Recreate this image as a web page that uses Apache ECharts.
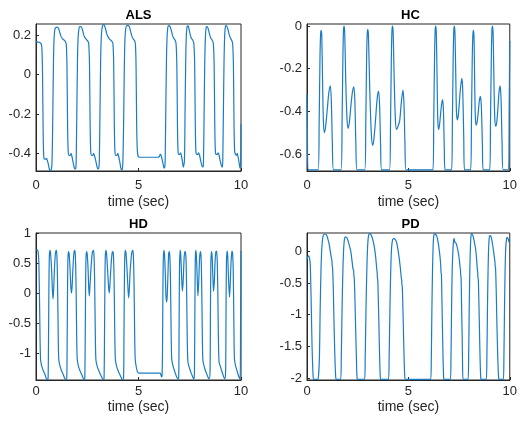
<!DOCTYPE html>
<html><head><meta charset="utf-8">
<script src="https://cdn.jsdelivr.net/npm/echarts@6/dist/echarts.min.js"></script>
<style>html,body{margin:0;padding:0;background:#fff}#c{width:520px;height:421px}</style>
</head><body><div id="c"></div>
<script>
// ---- data: [time (sec), value] ----
const alsData = [[0,0.168],[0.1,0.166],[0.2,0.163],[0.26,0.155],[0.29,0.13],[0.32,0.0],[0.35,-0.3],[0.38,-0.42],[0.42,-0.43],[0.47,-0.43],[0.51,-0.425],[0.55,-0.435],[0.6,-0.455],[0.65,-0.48],[0.7,-0.49],[0.74,-0.485],[0.78,-0.45],
[0.82,-0.2],[0.85,0.05],[0.88,0.18],[0.92,0.23],[0.97,0.24],[1.05,0.242],[1.1,0.235],[1.16,0.215],[1.22,0.195],[1.29,0.183],[1.36,0.177],[1.44,0.168],[1.48,0.15],
[1.51,0.05],[1.54,-0.25],[1.57,-0.39],[1.61,-0.41],[1.67,-0.41],[1.71,-0.4],[1.75,-0.415],[1.8,-0.44],[1.86,-0.47],[1.9,-0.48],[1.94,-0.475],[1.96,-0.44],
[1.99,-0.2],[2.02,0.05],[2.05,0.18],[2.09,0.23],[2.14,0.245],[2.2,0.245],[2.26,0.23],[2.32,0.205],[2.38,0.19],[2.45,0.18],[2.52,0.172],[2.57,0.16],
[2.61,0.05],[2.64,-0.25],[2.67,-0.39],[2.71,-0.41],[2.77,-0.41],[2.81,-0.4],[2.86,-0.415],[2.92,-0.44],[2.98,-0.47],[3.03,-0.48],[3.07,-0.47],[3.09,-0.43],
[3.12,-0.2],[3.15,0.05],[3.18,0.18],[3.22,0.235],[3.28,0.255],[3.34,0.25],[3.4,0.23],[3.46,0.205],[3.53,0.19],[3.6,0.18],[3.68,0.172],[3.75,0.16],
[3.79,0.05],[3.82,-0.25],[3.85,-0.39],[3.89,-0.41],[3.95,-0.41],[3.99,-0.4],[4.03,-0.415],[4.08,-0.44],[4.13,-0.47],[4.17,-0.485],[4.21,-0.48],[4.24,-0.44],
[4.28,-0.2],[4.31,0.05],[4.34,0.18],[4.38,0.235],[4.44,0.25],[4.52,0.25],[4.58,0.235],[4.64,0.21],[4.7,0.19],[4.76,0.18],[4.82,0.17],[4.85,0.155],
[4.88,0.05],[4.91,-0.25],[4.94,-0.38],[4.98,-0.415],[5.05,-0.42],[5.5,-0.42],[5.95,-0.42],[6.02,-0.415],[6.06,-0.405],[6.1,-0.41],[6.15,-0.43],[6.2,-0.455],[6.25,-0.475],[6.28,-0.47],[6.3,-0.44],
[6.33,-0.2],[6.36,0.05],[6.39,0.18],[6.43,0.24],[6.48,0.25],[6.54,0.245],[6.6,0.225],[6.66,0.2],[6.72,0.185],[6.78,0.177],[6.83,0.16],
[6.87,0.05],[6.9,-0.25],[6.93,-0.39],[6.97,-0.405],[7.02,-0.405],[7.05,-0.398],[7.09,-0.41],[7.14,-0.44],[7.19,-0.47],[7.22,-0.47],[7.24,-0.44],
[7.27,-0.2],[7.3,0.05],[7.33,0.19],[7.37,0.245],[7.42,0.248],[7.47,0.23],[7.52,0.205],[7.58,0.185],[7.64,0.177],[7.7,0.16],
[7.74,0.05],[7.77,-0.25],[7.8,-0.39],[7.84,-0.405],[7.89,-0.405],[7.93,-0.398],[7.98,-0.41],[8.04,-0.44],[8.1,-0.465],[8.15,-0.47],[8.17,-0.44],
[8.2,-0.2],[8.23,0.05],[8.26,0.18],[8.3,0.24],[8.35,0.245],[8.41,0.23],[8.47,0.205],[8.53,0.185],[8.59,0.177],[8.65,0.16],
[8.69,0.05],[8.72,-0.25],[8.75,-0.39],[8.79,-0.405],[8.84,-0.405],[8.88,-0.398],[8.93,-0.41],[8.99,-0.44],[9.05,-0.465],[9.09,-0.47],[9.11,-0.44],
[9.14,-0.2],[9.17,0.05],[9.2,0.19],[9.24,0.245],[9.29,0.25],[9.35,0.235],[9.41,0.21],[9.47,0.19],[9.53,0.178],[9.59,0.16],
[9.63,0.05],[9.66,-0.25],[9.69,-0.39],[9.73,-0.405],[9.78,-0.41],[9.82,-0.4],[9.86,-0.42],[9.91,-0.45],[9.95,-0.475],[9.98,-0.46],[10,-0.25]];

const hcData = [[0,-0.32],[0.02,-0.5],[0.05,-0.675],[0.3,-0.675],
[0.55,-0.675],[0.6,-0.45],[0.64,-0.15],[0.67,-0.04],[0.7,-0.02],[0.73,-0.05],[0.77,-0.27],[0.81,-0.45],[0.86,-0.5],[0.92,-0.47],[1.0,-0.39],[1.08,-0.31],[1.15,-0.28],[1.2,-0.35],[1.25,-0.55],[1.31,-0.675],
[1.68,-0.675],[1.73,-0.45],[1.77,-0.15],[1.8,-0.02],[1.83,0.0],[1.86,-0.03],[1.91,-0.25],[1.97,-0.43],[2.03,-0.48],[2.09,-0.45],[2.16,-0.38],[2.24,-0.31],[2.31,-0.285],[2.36,-0.35],[2.41,-0.55],[2.47,-0.675],
[2.85,-0.675],[2.9,-0.45],[2.94,-0.15],[2.97,-0.035],[3.0,-0.015],[3.03,-0.045],[3.09,-0.28],[3.17,-0.5],[3.24,-0.56],[3.3,-0.53],[3.38,-0.44],[3.46,-0.34],[3.53,-0.305],[3.58,-0.37],[3.63,-0.56],[3.68,-0.675],
[4.07,-0.675],[4.12,-0.45],[4.16,-0.15],[4.19,-0.02],[4.22,0.0],[4.25,-0.03],[4.3,-0.25],[4.36,-0.44],[4.42,-0.485],[4.49,-0.47],[4.57,-0.445],[4.65,-0.36],[4.73,-0.3],[4.78,-0.36],[4.83,-0.55],[4.89,-0.675],
[5.5,-0.675],[6.0,-0.675],
[6.21,-0.675],[6.25,-0.45],[6.29,-0.15],[6.32,-0.02],[6.35,0.0],[6.38,-0.04],[6.42,-0.28],[6.45,-0.44],[6.49,-0.485],[6.54,-0.46],[6.6,-0.4],[6.65,-0.36],[6.69,-0.345],[6.73,-0.4],[6.77,-0.57],[6.81,-0.675],
[7.13,-0.675],[7.17,-0.45],[7.21,-0.15],[7.24,-0.02],[7.27,0.0],[7.3,-0.04],[7.34,-0.25],[7.37,-0.4],[7.41,-0.44],[7.46,-0.42],[7.52,-0.35],[7.58,-0.28],[7.64,-0.245],[7.68,-0.3],[7.73,-0.52],[7.77,-0.675],
[8.07,-0.675],[8.11,-0.45],[8.15,-0.15],[8.18,-0.04],[8.21,-0.02],[8.24,-0.06],[8.27,-0.27],[8.3,-0.42],[8.34,-0.465],[8.39,-0.45],[8.45,-0.4],[8.5,-0.35],[8.55,-0.33],[8.6,-0.38],[8.65,-0.56],[8.69,-0.675],
[9.01,-0.675],[9.05,-0.45],[9.09,-0.15],[9.12,-0.02],[9.15,0.0],[9.18,-0.04],[9.22,-0.26],[9.26,-0.43],[9.31,-0.47],[9.36,-0.45],[9.42,-0.38],[9.47,-0.31],[9.52,-0.28],[9.57,-0.34],[9.62,-0.55],[9.68,-0.675],
[9.94,-0.675],[9.97,-0.4],[10,-0.07]];

const hdData = [[0,0.71],[0.05,0.72],[0.1,0.7],[0.14,0.5],[0.18,-0.3],[0.22,-1.1],[0.28,-1.22],[0.36,-1.3],[0.44,-1.36],[0.5,-1.42],[0.56,-1.44],
[0.59,-1.42],[0.61,-0.8],[0.63,0.1],[0.65,0.6],[0.68,0.71],[0.71,0.66],[0.76,0.4],[0.8,0.05],[0.83,-0.1],[0.86,0.05],[0.9,0.4],[0.95,0.67],[0.99,0.71],[1.02,0.62],[1.05,0.2],[1.08,-0.6],[1.11,-1.1],[1.17,-1.22],[1.25,-1.3],[1.33,-1.36],[1.4,-1.42],[1.46,-1.44],
[1.5,-1.42],[1.52,-0.8],[1.54,0.1],[1.56,0.6],[1.59,0.69],[1.62,0.64],[1.66,0.4],[1.7,0.1],[1.73,0.0],[1.76,0.1],[1.8,0.4],[1.85,0.67],[1.89,0.71],[1.92,0.62],[1.95,0.2],[1.98,-0.6],[2.01,-1.1],[2.07,-1.22],[2.15,-1.3],[2.23,-1.36],[2.3,-1.42],[2.35,-1.44],
[2.38,-1.42],[2.4,-0.8],[2.42,0.1],[2.44,0.6],[2.47,0.69],[2.5,0.64],[2.54,0.4],[2.57,0.1],[2.6,-0.05],[2.63,0.1],[2.68,0.4],[2.75,0.68],[2.8,0.71],[2.83,0.62],[2.86,0.2],[2.89,-0.6],[2.92,-1.1],[2.98,-1.22],[3.07,-1.3],[3.15,-1.36],[3.23,-1.42],[3.29,-1.44],
[3.32,-1.42],[3.34,-0.8],[3.36,0.1],[3.38,0.6],[3.41,0.71],[3.44,0.66],[3.49,0.4],[3.54,0.1],[3.57,0.0],[3.6,0.1],[3.65,0.4],[3.71,0.66],[3.75,0.69],[3.78,0.62],[3.81,0.2],[3.84,-0.6],[3.87,-1.1],[3.93,-1.22],[4.01,-1.3],[4.09,-1.36],[4.17,-1.42],[4.22,-1.44],
[4.27,-1.42],[4.29,-0.8],[4.31,0.1],[4.33,0.6],[4.36,0.71],[4.39,0.66],[4.44,0.4],[4.49,0.05],[4.52,-0.08],[4.55,0.05],[4.6,0.4],[4.67,0.67],[4.72,0.71],[4.75,0.62],[4.78,0.2],[4.81,-0.6],[4.84,-1.1],[4.9,-1.25],[4.96,-1.32],[5.05,-1.335],[5.6,-1.335],[6.05,-1.335],[6.1,-1.37],[6.13,-1.4],[6.15,-1.38],
[6.17,-1.0],[6.19,0.0],[6.21,0.55],[6.24,0.71],[6.27,0.64],[6.31,0.3],[6.34,-0.05],[6.37,-0.15],[6.4,-0.05],[6.44,0.35],[6.47,0.65],[6.5,0.69],[6.53,0.6],[6.56,0.2],[6.59,-0.6],[6.62,-1.1],[6.67,-1.2],[6.74,-1.28],[6.8,-1.34],[6.86,-1.4],[6.92,-1.43],
[6.96,-1.42],[6.98,-0.6],[7.0,0.4],[7.03,0.71],[7.06,0.64],[7.1,0.3],[7.14,0.03],[7.18,0.2],[7.22,0.55],[7.26,0.69],[7.29,0.68],[7.32,0.55],[7.35,0.0],[7.38,-0.8],[7.41,-1.15],[7.46,-1.22],[7.53,-1.3],[7.6,-1.36],[7.66,-1.41],[7.71,-1.43],
[7.73,-1.3],[7.75,-0.3],[7.77,0.55],[7.79,0.71],[7.82,0.64],[7.86,0.3],[7.9,-0.05],[7.94,0.2],[7.98,0.58],[8.02,0.69],[8.05,0.62],[8.08,0.2],[8.11,-0.6],[8.14,-1.12],[8.2,-1.22],[8.27,-1.3],[8.34,-1.36],[8.4,-1.41],[8.45,-1.43],
[8.49,-1.3],[8.51,-0.3],[8.53,0.5],[8.56,0.69],[8.59,0.62],[8.63,0.25],[8.66,0.03],[8.7,0.2],[8.74,0.55],[8.78,0.7],[8.81,0.69],[8.84,0.55],[8.87,0.0],[8.9,-0.8],[8.93,-1.15],[8.99,-1.22],[9.06,-1.3],[9.12,-1.36],[9.17,-1.41],[9.21,-1.43],
[9.25,-1.3],[9.27,-0.3],[9.29,0.5],[9.32,0.7],[9.35,0.63],[9.39,0.25],[9.44,-0.07],[9.48,0.2],[9.52,0.55],[9.56,0.7],[9.59,0.66],[9.62,0.4],[9.65,-0.4],[9.68,-1.1],[9.74,-1.22],[9.81,-1.3],[9.87,-1.37],[9.93,-1.42],[9.96,-1.43],[9.98,-0.5],[10,0.7]];

const pdData = [[0,-0.12],[0.05,-0.08],[0.09,-0.07],[0.13,-0.12],[0.16,-0.2],[0.2,-0.7],[0.25,-1.5],[0.3,-1.95],[0.34,-2.02],[0.55,-2.02],
[0.58,-2.02],[0.61,-1.7],[0.65,-0.9],[0.69,-0.3],[0.73,0.05],[0.78,0.22],[0.84,0.27],[0.92,0.27],[0.99,0.24],[1.05,0.17],[1.1,0.1],[1.15,0.0],[1.2,-0.1],[1.23,-0.15],[1.24,-0.22],[1.26,-0.26],[1.29,-0.5],[1.33,-1.1],[1.37,-1.6],[1.41,-1.95],[1.45,-2.02],
[1.66,-2.02],[1.69,-1.7],[1.73,-0.9],[1.77,-0.3],[1.81,0.05],[1.85,0.2],[1.9,0.23],[1.97,0.21],[2.04,0.15],[2.1,0.08],[2.16,0.0],[2.22,-0.15],[2.27,-0.28],[2.3,-0.3],[2.31,-0.38],[2.33,-0.42],[2.36,-0.7],[2.39,-1.1],[2.43,-1.6],[2.46,-1.95],[2.49,-2.02],
[2.84,-2.02],[2.87,-1.7],[2.91,-0.9],[2.95,-0.3],[2.99,0.08],[3.03,0.24],[3.08,0.28],[3.14,0.27],[3.2,0.23],[3.27,0.15],[3.33,0.05],[3.39,-0.1],[3.44,-0.28],[3.46,-0.33],[3.47,-0.41],[3.49,-0.45],[3.52,-0.8],[3.55,-1.2],[3.58,-1.65],[3.61,-1.95],[3.64,-2.02],
[4.02,-2.02],[4.05,-1.7],[4.09,-0.9],[4.13,-0.3],[4.17,0.05],[4.22,0.18],[4.28,0.2],[4.35,0.19],[4.42,0.14],[4.48,0.04],[4.54,-0.09],[4.6,-0.25],[4.65,-0.42],[4.67,-0.45],[4.68,-0.52],[4.7,-0.56],[4.73,-0.9],[4.76,-1.3],[4.79,-1.7],[4.82,-1.97],[4.85,-2.02],
[5.5,-2.02],[6.1,-2.02],
[6.13,-1.7],[6.16,-0.9],[6.19,-0.3],[6.22,0.08],[6.25,0.24],[6.29,0.28],[6.34,0.27],[6.4,0.24],[6.45,0.17],[6.49,0.1],[6.53,0.0],[6.57,-0.12],[6.6,-0.25],[6.61,-0.33],[6.63,-0.37],[6.65,-0.7],[6.68,-1.2],[6.71,-1.7],[6.74,-2.0],[6.76,-2.02],
[7.07,-2.02],[7.1,-1.7],[7.13,-0.9],[7.16,-0.3],[7.2,0.05],[7.23,0.17],[7.26,0.2],[7.29,0.15],[7.31,0.14],[7.35,0.13],[7.4,0.08],[7.45,0.0],[7.5,-0.1],[7.55,-0.25],[7.57,-0.3],[7.58,-0.38],[7.6,-0.42],[7.62,-0.8],[7.65,-1.3],[7.67,-1.75],[7.7,-2.02],
[7.94,-2.02],[7.97,-1.7],[8.0,-0.9],[8.03,-0.3],[8.06,0.08],[8.09,0.25],[8.12,0.28],[8.17,0.26],[8.22,0.2],[8.27,0.12],[8.32,0.03],[8.37,-0.15],[8.4,-0.28],[8.42,-0.33],[8.43,-0.41],[8.45,-0.45],[8.48,-0.85],[8.51,-1.3],[8.54,-1.75],[8.57,-2.0],[8.59,-2.02],
[8.84,-2.02],[8.87,-1.7],[8.9,-0.9],[8.93,-0.3],[8.96,0.08],[8.99,0.22],[9.02,0.25],[9.07,0.24],[9.12,0.17],[9.17,0.07],[9.21,-0.02],[9.25,-0.12],[9.27,-0.16],[9.28,-0.23],[9.3,-0.27],[9.33,-0.6],[9.37,-1.2],[9.41,-1.7],[9.45,-2.0],[9.47,-2.02],
[9.68,-2.02],[9.71,-1.7],[9.74,-0.9],[9.77,-0.3],[9.8,0.05],[9.84,0.19],[9.87,0.22],[9.92,0.2],[9.96,0.15],[10,0.14]];

// ---- labels / ticks ----
const panelTitles = ['ALS', 'HC', 'HD', 'PD'];
const xAxisName = 'time (sec)';
const xTicks = [0, 5, 10];
const alsYTicks = [-0.4, -0.2, 0, 0.2];
const hcYTicks = [-0.6, -0.4, -0.2, 0];
const hdYTicks = [-1, -0.5, 0, 0.5, 1];
const pdYTicks = [-2, -1.5, -1, -0.5, 0];

// ---- layout / style ----
const FONT = '"Liberation Sans", Arial, Helvetica, sans-serif';
const AX = '#262626';
const LINE = '#1b7cc4';
const grids = [
  {left: 36, top: 24, width: 205, height: 147},
  {left: 307, top: 24, width: 207, height: 147},
  {left: 36, top: 233, width: 205, height: 147},
  {left: 307, top: 233, width: 207, height: 147}
];
const panels = [
  {data: alsData, min: -0.49, max: 0.258, ticks: alsYTicks},
  {data: hcData, min: -0.68, max: 0.01, ticks: hcYTicks},
  {data: hdData, min: -1.45, max: 1.0, ticks: hdYTicks},
  {data: pdData, min: -2.03, max: 0.29, ticks: pdYTicks}
];
const xLabelMargin = [7.5, 7.5, 4.5, 4.5];
const xNameGap = [24, 24, 20, 20];

const option = {
  animation: false,
  backgroundColor: '#fff',
  title: panelTitles.map((t, i) => ({
    text: t,
    left: grids[i].left + grids[i].width / 2,
    top: grids[i].top - 15,
    textAlign: 'center',
    padding: 0,
    textStyle: {fontSize: 13, fontWeight: 'bold', color: '#000', fontFamily: FONT}
  })),
  grid: grids.map(g => Object.assign({show: true, borderColor: AX, borderWidth: 1, backgroundColor: '#fff', containLabel: false}, g)),
  xAxis: grids.map((g, i) => ({
    type: 'value', gridIndex: i, min: xTicks[0], max: xTicks[xTicks.length - 1], interval: 5,
    name: xAxisName, nameLocation: 'middle', nameGap: xNameGap[i],
    nameTextStyle: {fontSize: 14, color: AX, fontFamily: FONT},
    axisLine: {show: true, onZero: false, lineStyle: {color: AX, width: 1}},
    axisTick: {show: true, inside: true, length: 3, lineStyle: {color: AX}},
    axisLabel: {fontSize: 13, color: AX, fontFamily: FONT, margin: xLabelMargin[i]},
    splitLine: {show: false}
  })),
  yAxis: panels.map((p, i) => ({
    type: 'value', gridIndex: i, min: p.min, max: p.max,
    axisLine: {show: true, onZero: false, lineStyle: {color: AX, width: 1}},
    axisTick: {show: true, inside: true, length: 3, lineStyle: {color: AX}, customValues: p.ticks},
    axisLabel: {fontSize: 13, color: AX, fontFamily: FONT, margin: 5, customValues: p.ticks},
    splitLine: {show: false}
  })),
  series: panels.map((p, i) => ({
    type: 'line', xAxisIndex: i, yAxisIndex: i, data: p.data,
    showSymbol: false, symbol: 'none', smooth: 0.3, clip: true,
    lineStyle: {color: LINE, width: 1.2}
  }))
};

const chart = echarts.init(document.getElementById('c'), null, {renderer: 'canvas'});
chart.setOption(option);
</script>
</body></html>
